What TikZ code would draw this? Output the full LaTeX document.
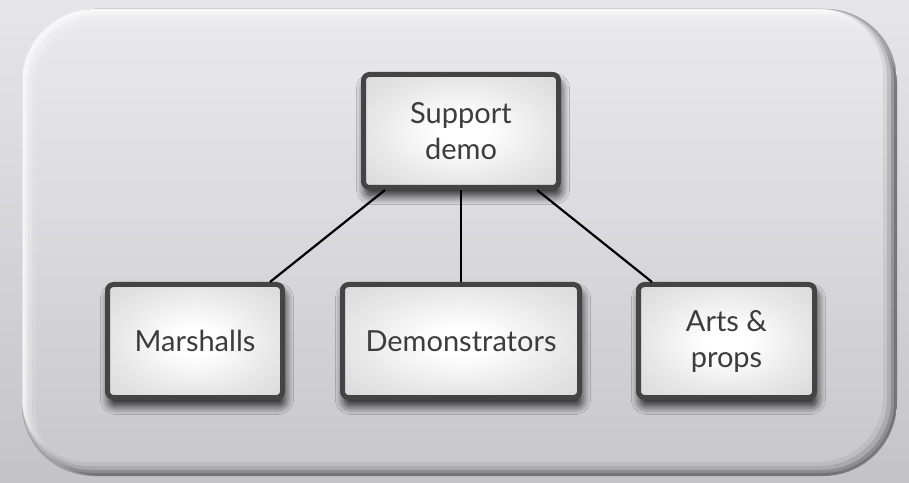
\documentclass[tikz,border=0pt]{standalone}
\usepackage{fontspec}
\setmainfont{Lato}
\usetikzlibrary{shadows.blur,calc}
\definecolor{bgtop}{RGB}{230,230,232}
\definecolor{bgbot}{RGB}{196,195,200}
\definecolor{pantop}{RGB}{234,234,236}
\definecolor{panbot}{RGB}{200,199,204}
\definecolor{boxborder}{RGB}{68,68,68}
\definecolor{boxtext}{RGB}{60,60,60}
\definecolor{boxinner}{RGB}{232,232,233}
\definecolor{boxmid}{RGB}{200,200,202}
\definecolor{boxcorner}{RGB}{180,180,182}
\definecolor{rimdark}{RGB}{90,90,96}
\pgfdeclareradialshading{boxshade}{\pgfpoint{0bp}{0bp}}{%
  color(0bp)=(white); color(6bp)=(white); color(22bp)=(boxinner); color(50bp)=(boxmid); color(72bp)=(boxcorner)}
\begin{document}
\begin{tikzpicture}[x=1pt,y=1pt,
  orgbox/.style={draw=boxborder, line width=5pt, rounded corners=6pt,
    shading=boxshade, minimum height=113pt,
    text=boxtext, font=\fontsize{29}{36}\selectfont, align=center,
    blur shadow={shadow xshift=2pt, shadow yshift=-8pt, shadow blur radius=9pt,
      shadow blur steps=14, shadow opacity=90}},
  link/.style={line width=2.2pt, black},
  panelshape/.style={rounded corners=72pt}]
\useasboundingbox (0,0) rectangle (909,482);
\shade[top color=bgtop, bottom color=bgbot] (0,0) rectangle (909,482);
\begin{scope}
  \clip[panelshape] (22,6) rectangle (897,473);
  \shade[top color=pantop, bottom color=panbot] (22,6) rectangle (897,473);
  \foreach \d/\o in {1.5/0.5, 3/0.35, 5/0.2, 7/0.1} {
    \draw[white, opacity=\o, line width=2*\d pt, panelshape]
      ([xshift=\d pt, yshift=-\d pt]22,6) rectangle ([xshift=\d pt, yshift=-\d pt]897,473);
    \draw[rimdark, opacity=\o, line width=2*\d pt, panelshape]
      ([xshift=-\d pt, yshift=\d pt]22,6) rectangle ([xshift=-\d pt, yshift=\d pt]897,473);
  }
\end{scope}
\node[orgbox, minimum width=195pt] (sup) at (461,351) {Support\\demo};
\node[orgbox, minimum width=175pt] (mar) at (195,141) {Marshalls};
\node[orgbox, minimum width=237pt] (dem) at (461,141) {Demonstrators};
\node[orgbox, minimum width=176pt] (art) at (726.5,141) {Arts \&\\props};
\draw[link] ([xshift=-76pt]sup.south) -- ([xshift=75pt]mar.north);
\draw[link] (sup.south) -- (dem.north);
\draw[link] ([xshift=76pt]sup.south) -- ([xshift=-74.5pt]art.north);
\end{tikzpicture}
\end{document}
